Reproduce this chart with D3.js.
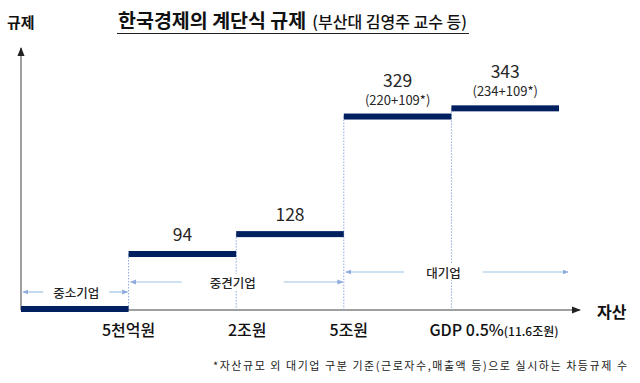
<!DOCTYPE html>
<html><head><meta charset="utf-8">
<script src="https://cdn.jsdelivr.net/npm/d3@7"></script>
<style>
html,body{margin:0;padding:0;background:#fff;}
svg{display:block;font-family:"Noto Sans CJK KR","Noto Sans",sans-serif;}
</style></head>
<body><svg id="c" width="640" height="383"></svg>
<script>
// ---- data ----
const boundaries = ["start", "5천억원", "2조원", "5조원", "GDP 0.5%", "end"];
const tickLabels = ["5천억원", "2조원", "5조원", "GDP 0.5%"];
const tickSubLabels = ["", "", "", "(11.6조원)"];
const stepValues = [0, 94, 128, 329, 343];
const stepBreakdown = ["", "", "", "(220+109*)", "(234+109*)"];
const groups = ["중소기업", "중견기업", "대기업"];
const groupFrom = [0, 1, 3];
const groupTo = [1, 3, 5];
const titleMain = "한국경제의 계단식 규제";
const titleSub = "(부산대 김영주 교수 등)";
const yTitle = "규제";
const xTitle = "자산";
const footnote = "*자산규모 외 대기업 구분 기준(근로자수,매출액 등)으로 실시하는 차등규제 수";

// ---- layout ----
const svg = d3.select("#c");
const x = d3.scalePoint().domain(d3.range(boundaries.length)).range([21, 559]);
const y = d3.scaleLinear().domain([0, 400]).range([309, 75]);
const navy = "#002060", axisC = "#808080", dotC = "#8faadc", arrC = "#9dc3e6", txt = "#262626";

// defs
const defs = svg.append("defs");
defs.append("marker").attr("id","ax").attr("viewBox","0 0 10 10").attr("refX",9).attr("refY",5)
  .attr("markerWidth",6).attr("markerHeight",6).attr("orient","auto")
  .append("path").attr("d","M0,1 L10,5 L0,9 z").attr("fill","#222");
defs.append("marker").attr("id","ar").attr("viewBox","0 0 10 10").attr("refX",9).attr("refY",5)
  .attr("markerWidth",5).attr("markerHeight",5).attr("orient","auto-start-reverse")
  .append("path").attr("d","M0,1 L10,5 L0,9 z").attr("fill",dotC);

// axes
svg.append("line").attr("x1",x(0)).attr("x2",x(0)).attr("y1",y(0)+1).attr("y2",48)
  .attr("stroke",axisC).attr("stroke-width",1.5).attr("marker-end","url(#ax)");
svg.append("line").attr("x1",x(0)).attr("x2",580).attr("y1",y(0)+1).attr("y2",y(0)+1)
  .attr("stroke",axisC).attr("stroke-width",1.5).attr("marker-end","url(#ax)");

// dotted boundary lines
for (let i = 1; i <= 4; i++) {
  svg.append("line").attr("x1",x(i)).attr("x2",x(i)).attr("y1",y(stepValues[i])).attr("y2",y(0)+1)
    .attr("stroke",dotC).attr("stroke-width",1).attr("stroke-dasharray","1.5,1.5");
}

// group span arrows
const gy = [292, 282, 272];
groups.forEach((g, i) => {
  const x0 = x(groupFrom[i]) + 2;
  const x1 = i === 2 ? x(groupTo[i]) + 9 : x(groupTo[i]) - 1;
  const cx = i === 2 ? x(4) - 8 : (i === 1 ? (x0 + x1) / 2 - 4 : (x0 + x1) / 2 + 1);
  const t = svg.append("text").attr("x",cx).attr("y",gy[i]).attr("text-anchor","middle")
    .attr("dominant-baseline","central").attr("font-size",12.5).attr("font-weight",500).attr("fill",txt).text(g);
  const w = t.node().getComputedTextLength();
  svg.insert("rect","text").attr("x",cx - w/2 - 4).attr("y",gy[i]-8).attr("width",w+8).attr("height",16).attr("fill","#fff");
  const gap = i === 2 ? 22 : (i === 1 ? 28 : 10);
  svg.append("line").attr("x1",x0).attr("x2",cx - w/2 - gap).attr("y1",gy[i]).attr("y2",gy[i])
    .attr("stroke",arrC).attr("stroke-width",1.2).attr("marker-start","url(#ar)");
  svg.append("line").attr("x1",cx + w/2 + gap).attr("x2",x1).attr("y1",gy[i]).attr("y2",gy[i])
    .attr("stroke",arrC).attr("stroke-width",1.2).attr("marker-end","url(#ar)");
});

// step bars
svg.selectAll("rect.step").data(stepValues).join("rect").attr("class","step")
  .attr("x",(d,i)=>x(i)).attr("width",(d,i)=>x(i+1)-x(i))
  .attr("y",d=>y(d)-3).attr("height",6).attr("fill",navy);

// value labels
stepValues.forEach((v, i) => {
  if (v === 0) return;
  const cx = (x(i) + x(i+1)) / 2;
  const hasSub = stepBreakdown[i] !== "";
  const base = y(v) - 3 - (hasSub ? 27 : 10);
  svg.append("text").attr("x",cx).attr("y",base).attr("text-anchor","middle")
    .attr("font-size",17.5).attr("fill",txt).text(v);
  if (hasSub) svg.append("text").attr("x",cx).attr("y",base+18).attr("text-anchor","middle")
    .attr("font-size",13).attr("fill",txt).text(stepBreakdown[i]);
});

// x tick labels
const tickDx = [0, 11, 5, 0];
tickLabels.forEach((t, i) => {
  const tx = svg.append("text").attr("y",336).attr("font-size",16).attr("font-weight",500).attr("fill","#111");
  if (tickSubLabels[i]) {
    tx.attr("x",x(i+1) - 22).attr("text-anchor","start");
    tx.append("tspan").text(t);
    tx.append("tspan").attr("font-size",12).text(tickSubLabels[i]);
  } else {
    tx.attr("x",x(i+1) + tickDx[i]).attr("text-anchor","middle").text(t);
  }
});

// axis titles
svg.append("text").attr("x",7).attr("y",28).attr("font-size",15).attr("font-weight",700).attr("fill","#111").text(yTitle);
svg.append("text").attr("x",597).attr("y",318).attr("font-size",16).attr("font-weight",700).attr("fill","#111").text(xTitle);

// title
const tt = svg.append("text").attr("x",118).attr("y",28).attr("fill","#111");
tt.append("tspan").attr("font-size",19.5).attr("font-weight",700).text(titleMain);
tt.append("tspan").attr("font-size",16).attr("font-weight",500).attr("dx",6).text(titleSub);
svg.append("line").attr("x1",117).attr("x2",469).attr("y1",33.5).attr("y2",33.5).attr("stroke","#222").attr("stroke-width",1);

// footnote
svg.append("text").attr("x",213).attr("y",370).attr("font-size",11).attr("fill","#222")
  .attr("textLength",414).attr("lengthAdjust","spacing").text(footnote);
</script></body></html>
